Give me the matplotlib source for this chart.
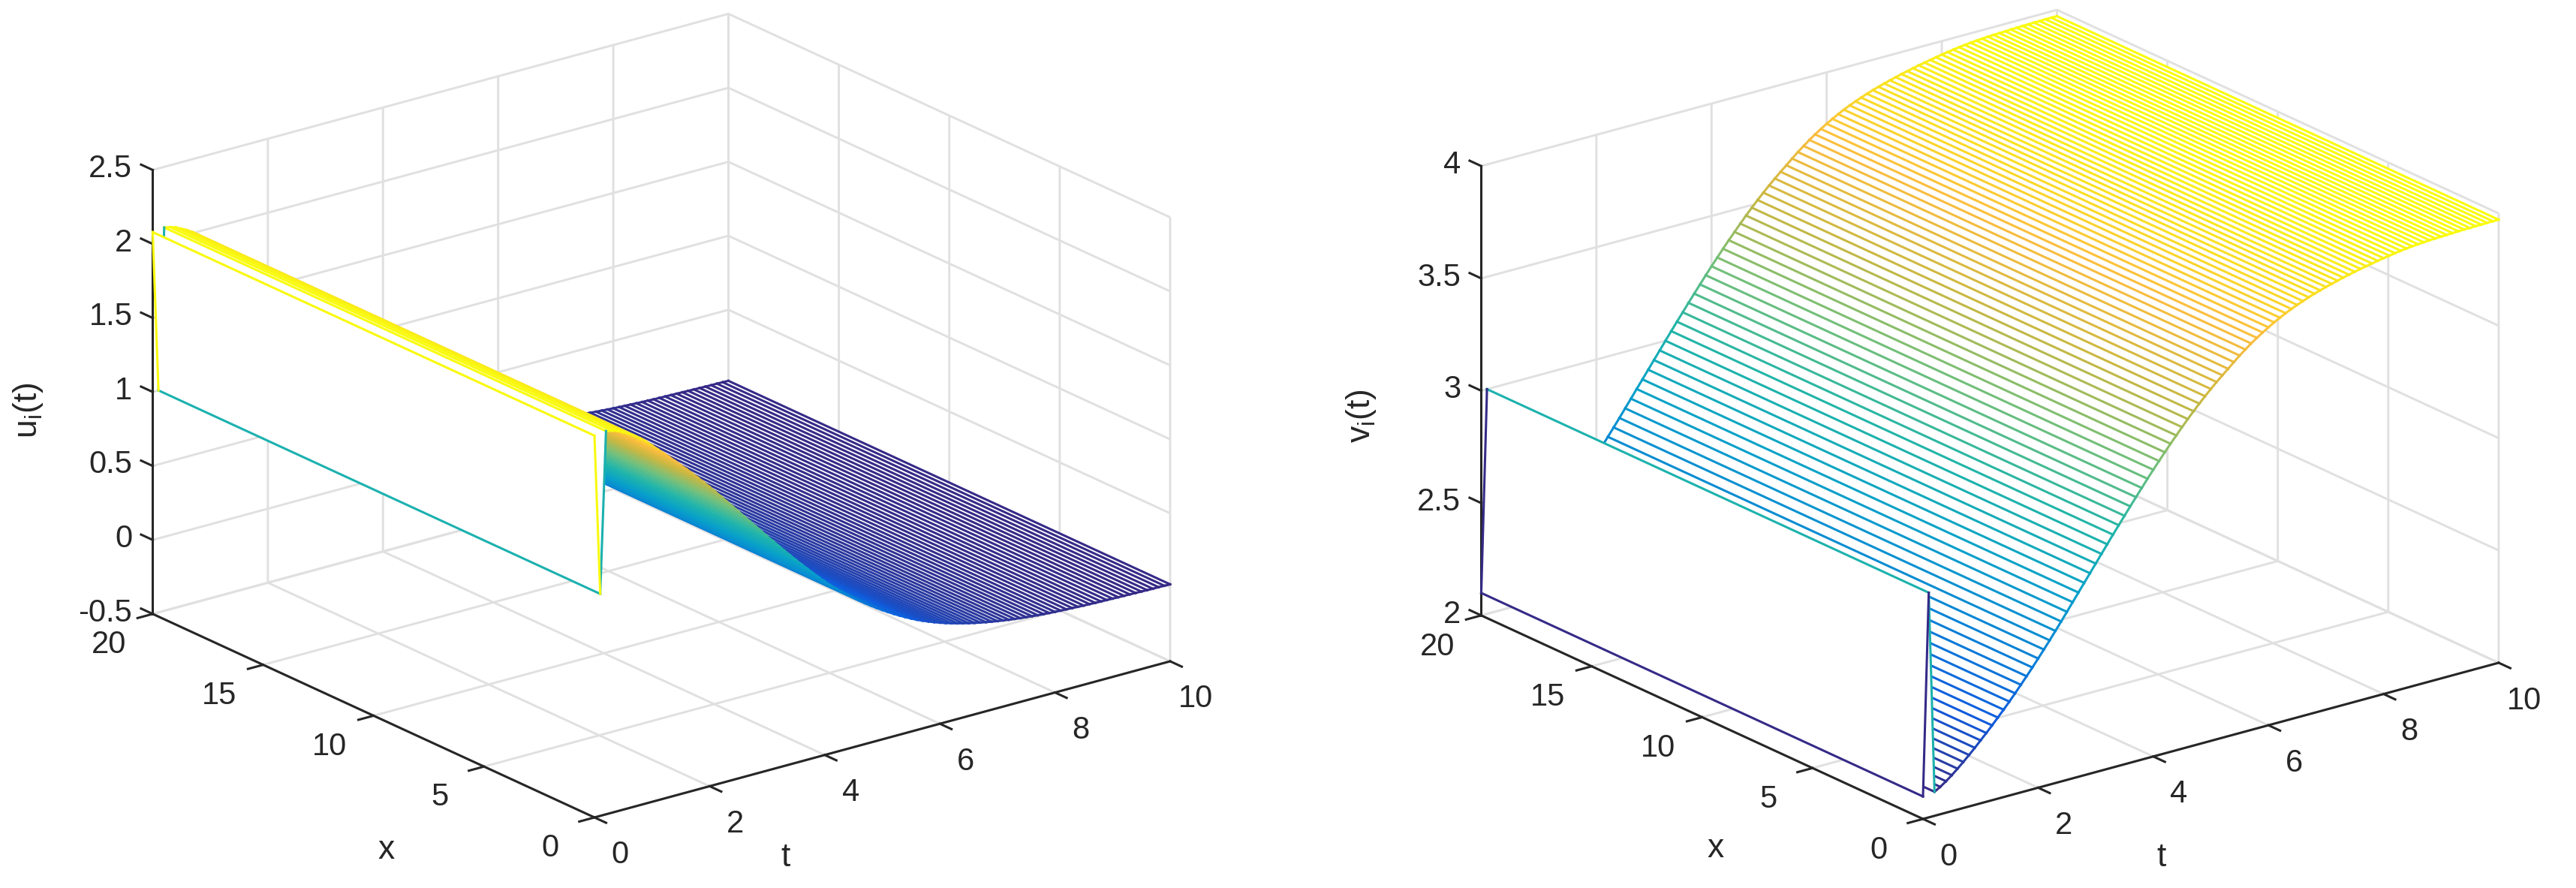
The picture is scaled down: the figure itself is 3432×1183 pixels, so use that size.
import numpy as np
import matplotlib
matplotlib.use('Agg')
import matplotlib.pyplot as plt
from matplotlib.colors import LinearSegmentedColormap
from mpl_toolkits.mplot3d.art3d import Poly3DCollection

plt.rcParams['font.family'] = ['Liberation Sans', 'DejaVu Sans']
plt.rcParams['mathtext.fontset'] = 'custom'
plt.rcParams['mathtext.rm'] = 'Liberation Sans'
plt.rcParams['mathtext.default'] = 'regular'

W, H = 3432, 1183

# time grid of the lines, 0.1 apart
t_vals = [i / 10 for i in range(101)]
x_ends = [0, 20]

u_vals = [2.08, 1.00, 2.09, 2.082, 2.07, 2.05, 2.03, 2.005, 1.977, 1.945,
          1.908, 1.871, 1.835, 1.798, 1.76, 1.722, 1.684, 1.645, 1.605, 1.564,
          1.522, 1.479, 1.436, 1.392, 1.348, 1.304, 1.26, 1.216, 1.172, 1.128,
          1.084, 1.04, 0.997, 0.954, 0.912, 0.87, 0.829, 0.789, 0.749, 0.71,
          0.672, 0.635, 0.602, 0.57, 0.539, 0.509, 0.48, 0.452, 0.425, 0.399,
          0.374, 0.35, 0.327, 0.305, 0.284, 0.264, 0.245, 0.228, 0.212, 0.197,
          0.183, 0.17, 0.158, 0.147, 0.137, 0.127, 0.118, 0.11, 0.102, 0.095,
          0.088, 0.082, 0.076, 0.071, 0.066, 0.062, 0.058, 0.054, 0.051, 0.048,
          0.045, 0.043, 0.041, 0.039, 0.037, 0.035, 0.034, 0.032, 0.031, 0.03,
          0.029, 0.028, 0.027, 0.026, 0.025, 0.024, 0.023, 0.022, 0.022, 0.021,
          0.02]

v_vals = [2.10, 3.00, 2.107, 2.122, 2.14, 2.16, 2.182, 2.205, 2.229, 2.254,
          2.28, 2.306, 2.333, 2.361, 2.389, 2.418, 2.448, 2.479, 2.51, 2.542,
          2.575, 2.608, 2.642, 2.677, 2.712, 2.748, 2.784, 2.82, 2.856, 2.892,
          2.928, 2.964, 3.0, 3.036, 3.071, 3.106, 3.141, 3.175, 3.209, 3.243,
          3.276, 3.308, 3.34, 3.371, 3.401, 3.431, 3.46, 3.488, 3.515, 3.541,
          3.566, 3.59, 3.613, 3.635, 3.658, 3.68, 3.70, 3.72, 3.738, 3.755,
          3.771, 3.786, 3.80, 3.813, 3.825, 3.836, 3.846, 3.856, 3.865, 3.873,
          3.881, 3.888, 3.895, 3.902, 3.908, 3.914, 3.92, 3.925, 3.93, 3.935,
          3.94, 3.944, 3.948, 3.952, 3.955, 3.958, 3.96, 3.962, 3.964, 3.965,
          3.966, 3.967, 3.968, 3.969, 3.97, 3.97, 3.971, 3.971, 3.972, 3.972,
          3.972]

t_ticks = [0, 2, 4, 6, 8, 10]
x_ticks = [0, 5, 10, 15, 20]
u_ticks = [-0.5, 0, 0.5, 1, 1.5, 2, 2.5]
u_labels = ['-0.5', '0', '0.5', '1', '1.5', '2', '2.5']
v_ticks = [2, 2.5, 3, 3.5, 4]
v_labels = ['2', '2.5', '3', '3.5', '4']

parula = LinearSegmentedColormap.from_list('parula', [
    (0.208, 0.166, 0.529), (0.059, 0.360, 0.868), (0.030, 0.510, 0.840),
    (0.030, 0.630, 0.790), (0.125, 0.710, 0.660), (0.440, 0.750, 0.480),
    (0.780, 0.720, 0.260), (0.990, 0.740, 0.240), (0.976, 0.983, 0.054)])

TEXT = '#262626'
GRID = '#e0e0e0'
LW = 2.2


def fit_axes(ax, origin, t_end):
    # scale and move the square axes until two box corners land on target pixels
    target = np.array(origin), np.array(t_end)
    zb = ax.get_zlim()[0]
    for _ in range(3):
        ax.apply_aspect()
        M = ax.get_proj()
        pts = []
        for a in (0, 10):
            p = M.dot([a, 0, zb, 1])
            pts.append(ax.transData.transform(p[:2] / p[3]))
        pos = ax.get_position()
        side = pos.width * W
        side2 = side * np.hypot(*(target[1] - target[0])) / np.hypot(*(pts[1] - pts[0]))
        rel = (pts[0] - [pos.x0 * W, pos.y0 * H]) / side
        left = origin[0] - rel[0] * side2
        bottom = origin[1] - rel[1] * side2
        ax.set_position([left / W, bottom / H, side2 / W, side2 / H])


def draw_panel(fig, vals, zlim, zticks, zlabels, zaspect, origin, t_end):
    ax = fig.add_subplot(projection='3d', proj_type='ortho', computed_zorder=False)
    ax.view_init(elev=20.7, azim=-127.5)
    ax.set_box_aspect((1, 1, zaspect))
    ax.patch.set_alpha(0)

    ax.set_xticks(t_ticks)
    ax.set_xticklabels([str(v) for v in t_ticks])
    ax.set_yticks(x_ticks)
    ax.set_yticklabels([str(v) for v in x_ticks])
    ax.set_zticks(zticks)
    ax.set_zticklabels(zlabels)

    for axis in (ax.xaxis, ax.yaxis, ax.zaxis):
        axis.set_pane_color((1, 1, 1, 0))
        axis.pane.set_edgecolor(GRID)
        axis.pane.set_linewidth(2)
        axis.line.set_color(TEXT)
        axis.line.set_linewidth(2.2)
        axis._axinfo['grid'].update(color=GRID, linewidth=2.1)
        axis._axinfo['tick'].update(inward_factor=0.33, outward_factor=0, color=TEXT)
        axis._axinfo['tick']['linewidth'] = {True: 2.2, False: 2.2}
    # z axis on the left corner, ticks along the x direction
    ax.zaxis.set_ticks_position('upper')
    ax.zaxis._get_tickdir = lambda pos: 1
    ax.zaxis._axinfo['tick'].update(inward_factor=0, outward_factor=0.33)

    ax.tick_params(axis='x', labelsize=30, labelcolor=TEXT, color=TEXT, pad=24)
    ax.tick_params(axis='y', labelsize=30, labelcolor=TEXT, color=TEXT, pad=34)
    ax.tick_params(axis='z', labelsize=30, labelcolor=TEXT, color=TEXT, pad=3)
    for lab in ax.get_xticklabels():
        lab.set_va('center')
    for lab in ax.get_yticklabels():
        lab.set_va('bottom')
    for lab in ax.get_zticklabels():
        lab.set_ha('right')
        lab.set_va('center')

    vmin, vmax = min(vals), max(vals)
    col = lambda v: parula((v - vmin) / (vmax - vmin))

    # far strips first so that nearer ones hide them, the way mesh does
    z = 10
    for i in range(len(t_vals) - 2, -1, -1):
        t0, t1 = t_vals[i], t_vals[i + 1]
        v0, v1 = vals[i], vals[i + 1]
        quad = [[(t0, x_ends[0], v0), (t1, x_ends[0], v1), (t1, x_ends[1], v1), (t0, x_ends[1], v0)]]
        poly = Poly3DCollection(quad, facecolors='white', edgecolors='none', linewidths=0,
                                antialiaseds=False, zorder=z)
        ax.add_collection3d(poly, autolim=False)
        ax.plot([t1, t1], x_ends, [v1, v1], color=col(v1), lw=LW, zorder=z + 1)
        for xe in x_ends:
            ax.plot([t0, t1], [xe, xe], [v0, v1], color=col(v0), lw=LW, zorder=z + 2)
        z += 3
    ax.plot([t_vals[0], t_vals[0]], x_ends, [vals[0], vals[0]], color=col(vals[0]), lw=LW, zorder=z)

    ax.set_xlim(0, 10, view_margin=0)
    ax.set_ylim(0, 20, view_margin=0)
    ax.set_zlim(zlim[0], zlim[1], view_margin=0)
    fit_axes(ax, origin, t_end)
    return ax


fig = plt.figure(figsize=(W / 100, H / 100), dpi=100)

draw_panel(fig, u_vals, (-0.5, 2.5), u_ticks, u_labels, 0.654, (792, H - 1089), (1559, H - 881))
draw_panel(fig, v_vals, (2, 4), v_ticks, v_labels, 0.662, (2562, H - 1091), (3329, H - 883))

# axis labels sit away from the mplot3d defaults, so place them on the figure
fig.text(1047 / W, 1 - 1143 / H, 't', fontsize=32, color=TEXT, ha='center', va='center')
fig.text(515 / W, 1 - 1132 / H, 'x', fontsize=32, color=TEXT, ha='center', va='center')
fig.text(37 / W, 1 - 547 / H, 'u$_{i}$(t)', fontsize=32, color=TEXT, rotation=90, ha='center', va='center')
fig.text(2880 / W, 1 - 1143 / H, 't', fontsize=32, color=TEXT, ha='center', va='center')
fig.text(2286 / W, 1 - 1130 / H, 'x', fontsize=32, color=TEXT, ha='center', va='center')
fig.text(1813 / W, 1 - 554 / H, 'v$_{i}$(t)', fontsize=32, color=TEXT, rotation=90, ha='center', va='center')

fig.savefig('out.png', dpi=100)
